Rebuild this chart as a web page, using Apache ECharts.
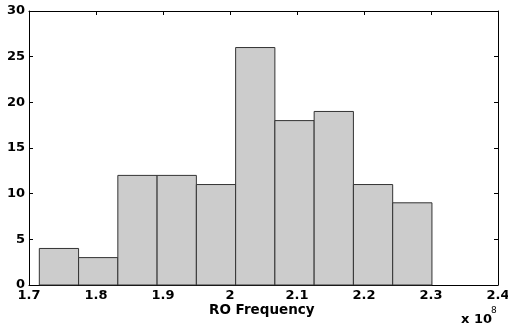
<!DOCTYPE html>
<html>
<head>
<meta charset="utf-8">
<script src="https://cdn.jsdelivr.net/npm/echarts@6/dist/echarts.min.js"></script>
<style>
html,body{margin:0;padding:0;background:#fff;}
#chart{width:508px;height:326px;}
</style>
</head>
<body>
<div id="chart"></div>
<script>
// Histogram of RO Frequency (x 10^8)
const binEdges = [1.7154, 1.7740, 1.8326, 1.8912, 1.9498, 2.0084, 2.0670, 2.1256, 2.1842, 2.2428, 2.3014];
const counts = [4, 3, 12, 12, 11, 26, 18, 19, 11, 9];
const xTicks = { min: 1.7, max: 2.4, interval: 0.1 };
const yTicks = { min: 0, max: 30, interval: 5 };
const xLabel = 'RO Frequency';
const xScaleText = 'x 10';
const xScaleExp = '8';

const barData = counts.map((c, i) => [binEdges[i], binEdges[i + 1], c]);

const FONT = 'DejaVu Sans';
const chart = echarts.init(document.getElementById('chart'), null, { renderer: 'canvas' });

const axisCommon = {
  axisLine: { show: true, onZero: false, lineStyle: { color: '#000', width: 1 } },
  axisTick: { show: true, inside: true, length: 4, lineStyle: { color: '#000', width: 1 } },
  splitLine: { show: false }
};

chart.setOption({
  animation: false,
  backgroundColor: '#fff',
  grid: { left: 29, right: 10, top: 11, bottom: 41, containLabel: false, outerBoundsMode: 'none' },
  xAxis: [
    Object.assign({
      type: 'value', position: 'bottom',
      min: xTicks.min, max: xTicks.max, interval: xTicks.interval,
      axisLabel: { show: true, margin: 4, color: '#000', fontFamily: FONT, fontWeight: 'bold', fontSize: 13,
        hideOverlap: false, showMinLabel: true, showMaxLabel: true,
        formatter: v => String(Math.round(v * 10) / 10) }
    }, axisCommon),
    Object.assign({
      type: 'value', position: 'top',
      min: xTicks.min, max: xTicks.max, interval: xTicks.interval,
      axisLabel: { show: false }
    }, axisCommon)
  ],
  yAxis: [
    Object.assign({
      type: 'value', position: 'left',
      min: yTicks.min, max: yTicks.max, interval: yTicks.interval,
      axisLabel: { show: true, margin: 4, color: '#000', fontFamily: FONT, fontWeight: 'bold', fontSize: 13 }
    }, axisCommon),
    Object.assign({
      type: 'value', position: 'right',
      min: yTicks.min, max: yTicks.max, interval: yTicks.interval,
      axisLabel: { show: false }
    }, axisCommon)
  ],
  graphic: [
    { type: 'text', left: 209, top: 303,
      style: { text: xLabel, fontFamily: FONT, fontWeight: 'bold', fontSize: 13.5, fill: '#000' } },
    { type: 'text', left: 461, top: 313,
      style: { text: xScaleText, fontFamily: FONT, fontWeight: 'bold', fontSize: 13, fill: '#000' } },
    { type: 'text', left: 491, top: 306,
      style: { text: xScaleExp, fontFamily: FONT, fontWeight: 'normal', fontSize: 9, fill: '#000' } }
  ],
  series: [{
    type: 'custom',
    xAxisIndex: 0, yAxisIndex: 0,
    data: barData,
    encode: { x: [0, 1], y: 2 },
    renderItem: function (params, api) {
      const p0 = api.coord([api.value(0), 0]);
      const p1 = api.coord([api.value(1), api.value(2)]);
      return {
        type: 'rect',
        shape: { x: p0[0], y: p1[1], width: p1[0] - p0[0], height: p0[1] - p1[1] },
        style: { fill: '#cccccc', stroke: '#333333', lineWidth: 1 }
      };
    }
  }]
});
</script>
</body>
</html>
